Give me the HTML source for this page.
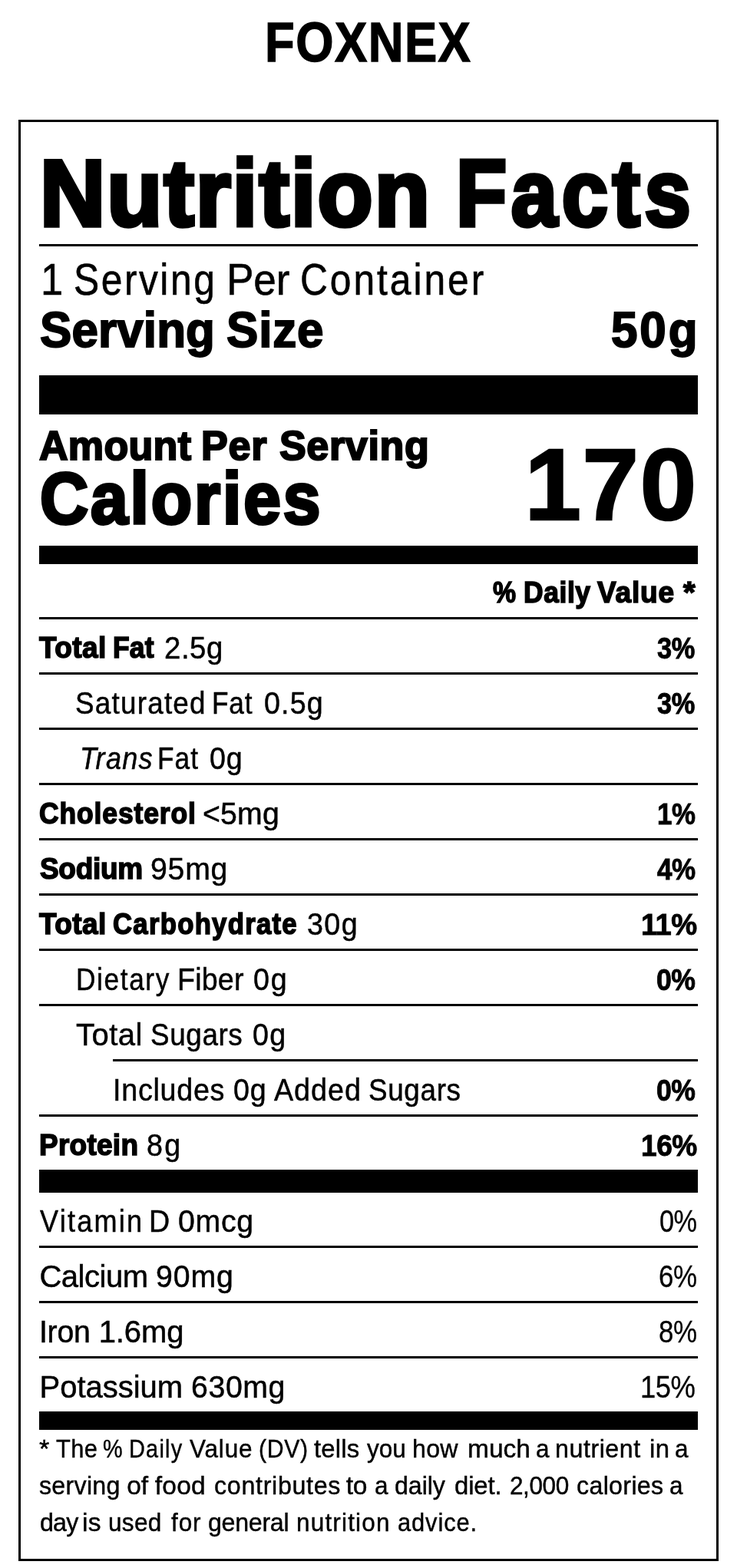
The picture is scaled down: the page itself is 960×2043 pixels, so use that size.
<!DOCTYPE html>
<html lang="en">
<head>
<meta charset="utf-8">
<title>FOXNEX Nutrition Facts</title>
<meta name="viewport" content="width=960">
<style>
html,body{margin:0;padding:0;background:#fff;font-family:"Liberation Sans",sans-serif}
body{width:960px;height:2043px;position:relative;overflow:hidden;color:#000}
.label{position:absolute;left:24px;top:156px;width:912px;height:1878px;border:3px solid #000;box-sizing:border-box}
.rule{position:absolute;background:#000;margin:0;border:0;padding:0}
.ln{position:absolute;left:0;margin:0;padding:0;white-space:nowrap;line-height:1;font-weight:400;font-style:normal}
.ln span{display:inline-block;transform-origin:0 0;vertical-align:baseline;position:relative}
.ln i{font-style:italic}
.brand{font-size:72px;font-weight:700;font-style:normal;-webkit-text-stroke:1.4px #000;}
.title{font-size:123px;font-weight:700;font-style:normal;-webkit-text-stroke:5.5px #000;}
.spc{font-size:56.5px;font-weight:400;font-style:normal;-webkit-text-stroke:0.6px #000;}
.ssize{font-size:64.5px;font-weight:700;font-style:normal;-webkit-text-stroke:2px #000;}
.aps{font-size:54.25px;font-weight:700;font-style:normal;-webkit-text-stroke:2.2px #000;}
.cal{font-size:95px;font-weight:700;font-style:normal;-webkit-text-stroke:4px #000;}
.calnum{font-size:132px;font-weight:700;font-style:normal;-webkit-text-stroke:2.5px #000;}
.dv{font-size:38.5px;font-weight:700;font-style:normal;-webkit-text-stroke:1.6px #000;}
.b{font-size:38.5px;font-weight:700;font-style:normal;-webkit-text-stroke:1.6px #000;}
.r{font-size:40px;font-weight:400;font-style:normal;-webkit-text-stroke:0.5px #000;}
.i{font-size:40px;font-weight:400;font-style:italic;-webkit-text-stroke:0.5px #000;}
.fn{font-size:33.5px;font-weight:400;font-style:normal;-webkit-text-stroke:0.45px #000;}
</style>
</head>
<body>
<h1 class="ln brand" style="left:0px;top:19.1px"><span class="brand" style="margin-left:345.29px;letter-spacing:1.67px;transform:scaleX(0.88);">FOXNEX</span></h1>
<section class="label">
<h2 class="ln title" style="left:-27px;top:31.25px"><span class="title" style="margin-left:52.28px;letter-spacing:2.07px;transform:scaleX(0.96);">Nutrition</span> <span class="title" style="margin-left:-23.87px;letter-spacing:6.5px;transform:scaleX(0.88);">Facts</span></h2>
<div class="rule" style="left:24px;top:159px;width:858px;height:3px"></div>
<div class="ln spc" style="left:-27px;top:177.65px"><span class="spc" style="margin-left:52.91px;transform:scaleX(0.93);">1</span> <span class="spc" style="margin-left:-4.07px;letter-spacing:2.88px;transform:scaleX(0.88);">Serving</span> <span class="spc" style="margin-left:-28.89px;letter-spacing:-0.12px;transform:scaleX(0.94);">Per</span> <span class="spc" style="margin-left:-7.12px;letter-spacing:3.36px;transform:scaleX(0.88);">Container</span></div>
<div class="ln ssize" style="left:-27px;top:239.1px"><span class="ssize" style="margin-left:52.02px;letter-spacing:0.14px;transform:scaleX(0.96);">Serving</span> <span class="ssize" style="margin-left:-12.44px;letter-spacing:0.9px;transform:scaleX(0.96);">Size</span> <span class="ssize" style="margin-left:350.57px;letter-spacing:3.01px;transform:scaleX(0.96);">50g</span></div>
<div class="rule" style="left:24px;top:330px;width:858px;height:51px"></div>
<div class="ln aps" style="left:-27px;top:393.85px"><span class="aps" style="margin-left:50.59px;letter-spacing:0.27px;transform:scaleX(0.96);">Amount</span> <span class="aps" style="margin-left:-10.47px;letter-spacing:0.81px;transform:scaleX(0.96);">Per</span> <span class="aps" style="margin-left:-2.98px;letter-spacing:0.66px;transform:scaleX(0.96);">Serving</span></div>
<div class="ln cal" style="left:-27px;top:442.8px"><span class="cal" style="margin-left:52.25px;letter-spacing:3.16px;transform:scaleX(0.92);">Calories</span></div>
<div class="ln calnum" style="left:-27px;top:406.7px"><span class="calnum" style="margin-left:683.38px;letter-spacing:1.83px;">170</span></div>
<div class="rule" style="left:24px;top:552px;width:858px;height:24px"></div>
<div class="ln dv" style="left:-27px;top:594.2px"><span class="dv" style="margin-left:641.72px;transform:scaleX(0.878);">%</span> <span class="dv" style="margin-left:-4.93px;letter-spacing:0.65px;transform:scaleX(0.92);">Daily</span> <span class="dv" style="margin-left:-9.9px;letter-spacing:0.92px;transform:scaleX(0.96);">Value</span> <span class="dv" style="margin-left:-4.17px;transform:scaleX(1.041);">*</span></div>
<div class="rule" style="left:24px;top:645px;width:858px;height:3px"></div>
<div class="ln b" style="left:-27px;top:664.25px"><span class="b" style="margin-left:51.45px;letter-spacing:0.45px;transform:scaleX(0.96);">Total</span> <span class="b" style="margin-left:-6.12px;letter-spacing:0.21px;transform:scaleX(0.92);">Fat</span> <span class="r" style="margin-left:-2.66px;letter-spacing:0.56px;transform:scaleX(0.96);top:0.55px;">2.5g</span> <span class="b" style="margin-left:551.07px;letter-spacing:-0.5px;transform:scaleX(0.893);-webkit-text-stroke-width:0.9px;top:0.35px;">3%</span></div>
<div class="rule" style="left:24px;top:717px;width:858px;height:3px"></div>
<div class="ln r" style="left:-27px;top:736.8px"><span class="r" style="margin-left:98.36px;letter-spacing:1.35px;transform:scaleX(0.92);">Saturated</span> <span class="r" style="margin-left:-18.69px;letter-spacing:0.99px;transform:scaleX(0.88);">Fat</span> <span class="r" style="margin-left:-4.3px;letter-spacing:1.22px;transform:scaleX(0.94);">0.5g</span> <span class="b" style="margin-left:417.84px;letter-spacing:-0.5px;transform:scaleX(0.893);-webkit-text-stroke-width:0.9px;top:-0.2px;">3%</span></div>
<div class="rule" style="left:24px;top:789px;width:858px;height:3px"></div>
<div class="ln i" style="left:-27px;top:808.8px"><span class="i" style="margin-left:103.85px;letter-spacing:1.44px;transform:scaleX(0.9);">Trans</span> <span class="r" style="margin-left:-16.68px;letter-spacing:1.25px;transform:scaleX(0.88);">Fat</span> <span class="r" style="margin-left:-4.38px;letter-spacing:0.91px;transform:scaleX(0.94);">0g</span></div>
<div class="rule" style="left:24px;top:861px;width:858px;height:3px"></div>
<div class="ln b" style="left:-27px;top:880.25px"><span class="b" style="margin-left:51.39px;letter-spacing:0.98px;transform:scaleX(0.92);">Cholesterol</span> <span class="r" style="margin-left:-21.04px;letter-spacing:0.2px;transform:scaleX(0.98);top:0.55px;">&lt;5mg</span> <span class="b" style="margin-left:479.53px;letter-spacing:-0.5px;transform:scaleX(0.905);-webkit-text-stroke-width:0.9px;top:0.35px;">1%</span></div>
<div class="rule" style="left:24px;top:933px;width:858px;height:3px"></div>
<div class="ln b" style="left:-27px;top:952.25px"><span class="b" style="margin-left:52.41px;letter-spacing:-0.31px;transform:scaleX(0.96);">Sodium</span> <span class="r" style="margin-left:-6.11px;letter-spacing:0.79px;transform:scaleX(0.98);top:0.55px;">95mg</span> <span class="b" style="margin-left:545.64px;letter-spacing:-0.5px;transform:scaleX(0.908);-webkit-text-stroke-width:0.9px;top:0.35px;">4%</span></div>
<div class="rule" style="left:24px;top:1005px;width:858px;height:3px"></div>
<div class="ln b" style="left:-27px;top:1024.25px"><span class="b" style="margin-left:51.45px;letter-spacing:0.45px;transform:scaleX(0.96);">Total</span> <span class="b" style="margin-left:-6.02px;letter-spacing:1.45px;transform:scaleX(0.9);">Carbohydrate</span> <span class="r" style="margin-left:-26.23px;letter-spacing:1.53px;transform:scaleX(0.94);top:0.55px;">30g</span> <span class="b" style="margin-left:352.84px;letter-spacing:-0.5px;transform:scaleX(0.99);-webkit-text-stroke-width:0.9px;top:0.35px;">11%</span></div>
<div class="rule" style="left:24px;top:1077px;width:858px;height:3px"></div>
<div class="ln r" style="left:-27px;top:1096.8px"><span class="r" style="margin-left:99.44px;letter-spacing:1.86px;transform:scaleX(0.88);">Dietary</span> <span class="r" style="margin-left:-18.89px;letter-spacing:0.21px;transform:scaleX(0.94);">Fiber</span> <span class="r" style="margin-left:-4.71px;letter-spacing:1.87px;transform:scaleX(0.94);">0g</span> <span class="b" style="margin-left:465.89px;letter-spacing:-0.5px;transform:scaleX(0.925);-webkit-text-stroke-width:0.9px;top:-0.2px;">0%</span></div>
<div class="rule" style="left:24px;top:1149px;width:858px;height:3px"></div>
<div class="ln r" style="left:-27px;top:1168.8px"><span class="r" style="margin-left:99.05px;letter-spacing:0.48px;">Total</span> <span class="r" style="margin-left:-1.57px;letter-spacing:0.69px;transform:scaleX(0.92);">Sugars</span> <span class="r" style="margin-left:-8.31px;letter-spacing:1.34px;transform:scaleX(0.94);">0g</span></div>
<div class="rule" style="left:120px;top:1221px;width:762px;height:3px"></div>
<div class="ln r" style="left:-27px;top:1240.8px"><span class="r" style="margin-left:147.31px;letter-spacing:0.81px;transform:scaleX(0.94);">Includes</span> <span class="r" style="margin-left:-9.71px;letter-spacing:0.97px;transform:scaleX(0.94);">0g</span> <span class="r" style="margin-left:-4.42px;letter-spacing:1.11px;transform:scaleX(0.94);">Added</span> <span class="r" style="margin-left:-9.39px;letter-spacing:0.74px;transform:scaleX(0.92);">Sugars</span> <span class="b" style="margin-left:232.35px;letter-spacing:-0.5px;transform:scaleX(0.925);-webkit-text-stroke-width:0.9px;top:-0.2px;">0%</span></div>
<div class="rule" style="left:24px;top:1293px;width:858px;height:3px"></div>
<div class="ln b" style="left:-27px;top:1312.25px"><span class="b" style="margin-left:51.25px;letter-spacing:0.29px;transform:scaleX(0.96);">Protein</span> <span class="r" style="margin-left:-5.58px;letter-spacing:2.51px;transform:scaleX(0.94);top:0.55px;">8g</span> <span class="b" style="margin-left:583.38px;letter-spacing:-0.5px;transform:scaleX(0.963);-webkit-text-stroke-width:0.9px;top:0.35px;">16%</span></div>
<div class="rule" style="left:24px;top:1365px;width:858px;height:30px"></div>
<div class="ln r" style="left:-27px;top:1411.7px"><span class="r" style="margin-left:51.95px;letter-spacing:2.52px;transform:scaleX(0.9);">Vitamin</span> <span class="r" style="margin-left:-19.12px;transform:scaleX(0.94);">D</span> <span class="r" style="margin-left:-2.28px;letter-spacing:0.78px;transform:scaleX(0.98);">0mcg</span> <span class="r" style="margin-left:514.55px;letter-spacing:-0.5px;transform:scaleX(0.856);-webkit-text-stroke-width:0.3px;top:0.1px;">0%</span></div>
<div class="rule" style="left:24px;top:1464px;width:858px;height:3px"></div>
<div class="ln r" style="left:-27px;top:1483.7px"><span class="r" style="margin-left:51.4px;letter-spacing:-0.47px;">Calcium</span> <span class="r" style="margin-left:-0.43px;letter-spacing:0.96px;transform:scaleX(0.98);">90mg</span> <span class="r" style="margin-left:539.4px;letter-spacing:-0.5px;transform:scaleX(0.872);-webkit-text-stroke-width:0.3px;top:0.1px;">6%</span></div>
<div class="rule" style="left:24px;top:1536px;width:858px;height:3px"></div>
<div class="ln r" style="left:-27px;top:1555.7px"><span class="r" style="margin-left:51.44px;letter-spacing:-0.28px;transform:scaleX(0.98);">Iron</span> <span class="r" style="margin-left:-1.73px;letter-spacing:-0.08px;">1.6mg</span> <span class="r" style="margin-left:607.16px;letter-spacing:-0.5px;transform:scaleX(0.872);-webkit-text-stroke-width:0.3px;top:0.1px;">8%</span></div>
<div class="rule" style="left:24px;top:1608px;width:858px;height:3px"></div>
<div class="ln r" style="left:-27px;top:1627.7px"><span class="r" style="margin-left:51.62px;letter-spacing:-0.04px;">Potassium</span> <span class="r" style="margin-left:-0.19px;letter-spacing:0.65px;transform:scaleX(0.98);">630mg</span> <span class="r" style="margin-left:448.32px;letter-spacing:-0.5px;transform:scaleX(0.911);-webkit-text-stroke-width:0.3px;top:0.1px;">15%</span></div>
<div class="rule" style="left:24px;top:1680px;width:858px;height:24px"></div>
<p class="ln fn" style="left:-27px;top:1711.88px"><span class="fn" style="margin-left:51.4px;transform:scaleX(1.023);">*</span> <span class="fn" style="margin-left:-0.53px;letter-spacing:0.42px;transform:scaleX(0.92);">The</span> <span class="fn" style="margin-left:-7.39px;transform:scaleX(0.86);">%</span> <span class="fn" style="margin-left:-5px;letter-spacing:1.49px;transform:scaleX(0.86);">Daily</span> <span class="fn" style="margin-left:-12.72px;letter-spacing:0.87px;transform:scaleX(0.94);">Value</span> <span class="fn" style="margin-left:-6.83px;letter-spacing:0.81px;transform:scaleX(0.9);">(DV)</span> <span class="fn" style="margin-left:-9.47px;letter-spacing:0.17px;transform:scaleX(0.98);">tells</span> <span class="fn" style="margin-left:-0.73px;letter-spacing:0.06px;transform:scaleX(0.94);">you</span> <span class="fn" style="margin-left:-4px;letter-spacing:0.31px;transform:scaleX(0.96);">how</span> <span class="fn" style="margin-left:0.07px;letter-spacing:-0.03px;">much</span> <span class="fn" style="margin-left:-1.97px;transform:scaleX(0.94);">a</span> <span class="fn" style="margin-left:-3.14px;letter-spacing:0.58px;transform:scaleX(0.96);">nutrient</span> <span class="fn" style="margin-left:-3.19px;letter-spacing:0.35px;transform:scaleX(0.98);">in</span> <span class="fn" style="margin-left:-3.11px;transform:scaleX(0.94);">a</span></p>
<p class="ln fn" style="left:-27px;top:1759.58px"><span class="fn" style="margin-left:51.23px;letter-spacing:0.3px;transform:scaleX(0.96);">serving</span> <span class="fn" style="margin-left:-5.39px;letter-spacing:-0.1px;">of</span> <span class="fn" style="margin-left:-0.46px;letter-spacing:0.17px;">food</span> <span class="fn" style="margin-left:2.37px;letter-spacing:0.74px;transform:scaleX(0.96);">contributes</span> <span class="fn" style="margin-left:-10.05px;letter-spacing:-0.2px;">to</span> <span class="fn" style="margin-left:0.64px;transform:scaleX(0.94);">a</span> <span class="fn" style="margin-left:-2.35px;letter-spacing:-0.07px;transform:scaleX(0.96);">daily</span> <span class="fn" style="margin-left:-0.17px;letter-spacing:-0.1px;transform:scaleX(0.98);">diet.</span> <span class="fn" style="margin-left:0.36px;letter-spacing:-0.42px;transform:scaleX(0.94);">2,000</span> <span class="fn" style="margin-left:-4.2px;letter-spacing:0.35px;transform:scaleX(0.96);">calories</span> <span class="fn" style="margin-left:-6.11px;transform:scaleX(0.94);">a</span></p>
<p class="ln fn" style="left:-27px;top:1807.88px"><span class="fn" style="margin-left:51.51px;letter-spacing:-0.82px;transform:scaleX(0.96);">day</span> <span class="fn" style="margin-left:-5.29px;letter-spacing:0.2px;">is</span> <span class="fn" style="margin-left:0.11px;letter-spacing:0.33px;transform:scaleX(0.94);">used</span> <span class="fn" style="margin-left:-0.92px;letter-spacing:0.98px;transform:scaleX(0.94);">for</span> <span class="fn" style="margin-left:-3.61px;letter-spacing:-0.3px;transform:scaleX(0.96);">general</span> <span class="fn" style="margin-left:-3.8px;letter-spacing:1.26px;transform:scaleX(0.94);">nutrition</span> <span class="fn" style="margin-left:-8.69px;letter-spacing:0.99px;transform:scaleX(0.92);">advice.</span></p>
</section>
</body>
</html>
